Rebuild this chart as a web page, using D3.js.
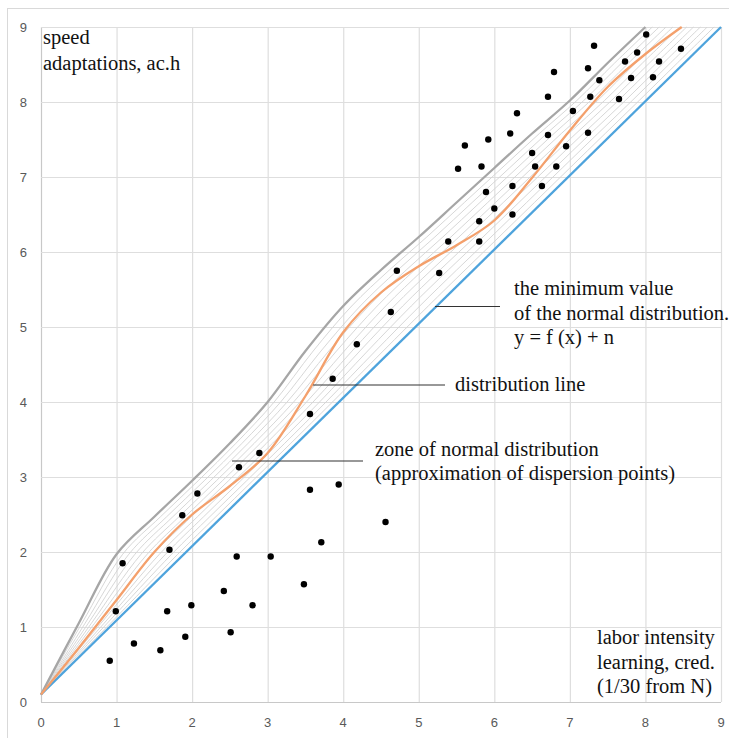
<!DOCTYPE html>
<html>
<head>
<meta charset="utf-8">
<script src="https://cdn.jsdelivr.net/npm/d3@7"></script>
<style>
  body { margin: 0; background: #fff; }
  svg { display: block; }
  .tick-label { font-family: "Liberation Sans", "Open Sans", sans-serif; font-size: 13px; fill: #595959; }
  .note { font-family: "Liberation Serif", "DejaVu Serif", serif; font-size: 20.5px; fill: #111; }
</style>
</head>
<body>
<svg id="chart" width="729" height="738"></svg>
<script>
// axis ticks
const xTicks = [0, 1, 2, 3, 4, 5, 6, 7, 8, 9];
const yTicks = [0, 1, 2, 3, 4, 5, 6, 7, 8, 9];

// upper bound of the zone (grey line)
const upperX = [0, 0.5, 1, 1.5, 2, 2.5, 3, 3.5, 4, 4.5, 5, 5.5, 6, 6.5, 7, 7.5, 8];
const upperY = [0.1, 1.05, 1.97, 2.47, 2.95, 3.45, 4.0, 4.68, 5.28, 5.76, 6.2, 6.66, 7.12, 7.58, 8.02, 8.52, 9.0];

// distribution line (orange)
const distX = [0, 0.5, 1, 1.5, 2, 2.5, 3, 3.5, 4, 4.5, 5, 5.5, 6, 6.5, 7, 7.5, 8, 8.48];
const distY = [0.1, 0.72, 1.36, 2.0, 2.5, 2.88, 3.32, 4.08, 4.93, 5.46, 5.81, 6.09, 6.42, 6.99, 7.62, 8.2, 8.64, 9.0];

// minimum value of the normal distribution (blue)
const minX = [0, 9];
const minY = [0.1, 9];

// dispersion points
const points = [
  [5.61, 7.42], [5.92, 7.50], [5.52, 7.11], [5.83, 7.14], [5.89, 6.80], [6.00, 6.58],
  [5.80, 6.41], [5.39, 6.14], [5.80, 6.14], [8.01, 8.90], [7.32, 8.75], [7.89, 8.66],
  [7.73, 8.54], [8.18, 8.54], [8.47, 8.71], [7.24, 8.45], [6.79, 8.40], [7.39, 8.29],
  [7.81, 8.32], [8.10, 8.33], [6.71, 8.07], [7.27, 8.07], [7.65, 8.04], [6.30, 7.85],
  [7.04, 7.88], [6.21, 7.58], [6.71, 7.56], [7.24, 7.59], [6.95, 7.41], [6.50, 7.32],
  [6.54, 7.14], [6.82, 7.14], [6.24, 6.88], [6.63, 6.88], [6.24, 6.50],
  [4.71, 5.75], [5.27, 5.72], [4.63, 5.20], [4.18, 4.77], [3.86, 4.31], [3.56, 3.84],
  [2.89, 3.32], [2.62, 3.13], [2.07, 2.78], [3.56, 2.83], [3.94, 2.90], [4.56, 2.40],
  [3.71, 2.13], [3.04, 1.94], [3.48, 1.57], [2.80, 1.29],
  [1.08, 1.85], [0.99, 1.21], [0.91, 0.55], [1.23, 0.78], [1.58, 0.69], [1.67, 1.21],
  [1.91, 0.87], [1.99, 1.29], [1.70, 2.03], [1.87, 2.49], [2.42, 1.48], [2.59, 1.94],
  [2.51, 0.93]
];

const svg = d3.select('#chart');
const x = d3.scaleLinear().domain([0, 9]).range([41, 721]);
const y = d3.scaleLinear().domain([0, 9]).range([702, 27]);

// outer frame
svg.append('rect')
  .attr('x', 7.5).attr('y', 8.5).attr('width', 740).attr('height', 740)
  .attr('fill', 'none').attr('stroke', '#d9d9d9');

// grid
svg.append('g').selectAll('line').data(xTicks).join('line')
  .attr('x1', d => x(d) + 0.5).attr('x2', d => x(d) + 0.5)
  .attr('y1', y(9)).attr('y2', y(0))
  .attr('stroke', d => d === 0 ? '#c8c8c8' : '#dedede').attr('stroke-width', 1.2);
svg.append('g').selectAll('line').data(yTicks).join('line')
  .attr('y1', d => y(d) + 0.5).attr('y2', d => y(d) + 0.5)
  .attr('x1', x(0)).attr('x2', x(9))
  .attr('stroke', d => d === 0 ? '#c8c8c8' : '#dedede').attr('stroke-width', 1.2);

// tick labels
svg.append('g').selectAll('text').data(xTicks).join('text')
  .attr('class', 'tick-label')
  .attr('x', d => x(d)).attr('y', 727)
  .attr('text-anchor', 'middle')
  .text(d => d);
svg.append('g').selectAll('text').data(yTicks).join('text')
  .attr('class', 'tick-label')
  .attr('x', 27).attr('y', d => y(d) + 4.5)
  .attr('text-anchor', 'end')
  .text(d => d);

// hatch lines of the zone: between grey line and blue line, at equal heights
const minLine = d3.scaleLinear().domain(minY).range(minX);
const hatchCount = 11;
const hatchLine = d3.line().x(d => x(d[0])).y(d => y(d[1])).curve(d3.curveCatmullRom);
for (let k = 1; k < hatchCount; k++) {
  const t = k / hatchCount;
  const pts = upperX.map((ux, i) => {
    const bx = minLine(upperY[i]);
    return [ux + t * (bx - ux), upperY[i]];
  });
  svg.append('path')
    .attr('d', hatchLine(pts))
    .attr('fill', 'none')
    .attr('stroke', '#d3d3d3')
    .attr('stroke-width', 0.9);
}

const line = d3.line().x(d => x(d[0])).y(d => y(d[1])).curve(d3.curveCatmullRom);

// grey upper line
svg.append('path')
  .attr('d', line(upperX.map((d, i) => [d, upperY[i]])))
  .attr('fill', 'none').attr('stroke', '#a6a6a6').attr('stroke-width', 2.3);

// blue min line
svg.append('path')
  .attr('d', line(minX.map((d, i) => [d, minY[i]])))
  .attr('fill', 'none').attr('stroke', '#4ea3dc').attr('stroke-width', 2.3);

// orange distribution line
svg.append('path')
  .attr('d', line(distX.map((d, i) => [d, distY[i]])))
  .attr('fill', 'none').attr('stroke', '#f4a06c').attr('stroke-width', 2.3);

// points
svg.append('g').selectAll('circle').data(points).join('circle')
  .attr('cx', d => x(d[0])).attr('cy', d => y(d[1]))
  .attr('r', 3.2).attr('fill', '#000');

// leader lines
const leaders = [
  [435, 306.5, 500, 306.5],
  [313, 385, 445, 385],
  [232, 461, 363, 461]
];
svg.append('g').selectAll('line').data(leaders).join('line')
  .attr('x1', d => d[0]).attr('y1', d => d[1])
  .attr('x2', d => d[2]).attr('y2', d => d[3])
  .attr('stroke', '#333').attr('stroke-width', 1.2);

// notes
function note(lines, tx, ty, step) {
  const t = svg.append('text').attr('class', 'note');
  lines.forEach((s, i) => {
    t.append('tspan').attr('x', tx).attr('y', ty + i * step).text(s);
  });
}
note(['speed', 'adaptations, ac.h'], 43, 44, 25.5);
note(['the minimum value', 'of the normal distribution.', 'y = f (x) + n'], 514, 295, 24.5);
note(['distribution line'], 455, 390.5, 24);
note(['zone of normal distribution', '(approximation of dispersion points)'], 375, 456, 24);
note(['labor intensity', 'learning, cred.', '(1/30 from N)'], 597, 644, 24.5);
</script>
</body>
</html>
